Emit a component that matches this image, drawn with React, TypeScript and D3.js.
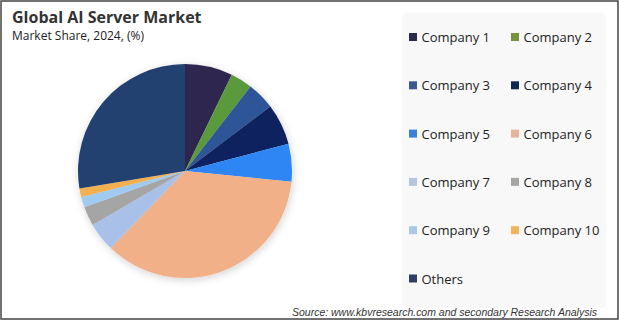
import React from "react";
import * as d3 from "d3";

const categories = ["Company 1","Company 2","Company 3","Company 4","Company 5","Company 6","Company 7","Company 8","Company 9","Company 10","Others"];
const shares = [7.2, 3.3, 4.2, 6.2, 5.7, 35.6, 4.4, 2.9, 1.6, 1.3, 27.6];
const pieColors = ["#2e2550","#5a9a3c","#2f5597","#0a205e","#2e86f5","#f2b089","#a9c1e8","#a5a5a5","#9fcbf0","#f4b050","#233f6f"];
const legendColors = ["#2b2a4a","#77933c","#3a5a8f","#0f2a52","#3a80d8","#e6b49a","#b6c5dc","#a6a6a6","#a9c9e4","#f0b25a","#2e3f66"];

const W = 620, H = 322;

export default function App() {
  const cx = 185, cy = 171, r = 107;
  const pie = d3.pie<number>().sort(null).value(d => d);
  const arcs = pie(shares);
  const arc = d3.arc<d3.PieArcDatum<number>>().innerRadius(0).outerRadius(r);
  const font = "'Open Sans', 'Noto Sans', sans-serif";
  const colX = d3.scalePoint<number>().domain([0, 1]).range([409, 511]);
  const rowY = d3.scaleLinear().domain([0, 5]).range([37.5, 279]);
  return (
    <svg width={W} height={H} style={{ position: "absolute", left: 0, top: 0 }} fontFamily={font}>
      <defs>
        <filter id="sh" x="-20%" y="-20%" width="140%" height="140%">
          <feGaussianBlur in="SourceAlpha" stdDeviation="4" />
          <feOffset dx="1" dy="2" result="b" />
          <feComponentTransfer><feFuncA type="linear" slope="0.18" /></feComponentTransfer>
          <feMerge><feMergeNode /><feMergeNode in="SourceGraphic" /></feMerge>
        </filter>
      </defs>
      <rect x={0} y={0} width={W} height={H} fill="#ffffff" />
      <text x={12} y={23} fontSize={16} fontWeight="bold" fill="#333333">Global AI Server Market</text>
      <text x={12} y={40} fontSize={12} fill="#222222">Market Share, 2024, (%)</text>
      <g transform={`translate(${cx},${cy})`} filter="url(#sh)">
        {arcs.map((a, i) => (
          <path key={i} d={arc(a) || ""} fill={pieColors[i]} />
        ))}
      </g>
      <rect x={401.5} y={12.5} width={205} height={296} rx={6} fill="#f8f8f8" />
      {categories.map((c, i) => {
        const col = i === 10 ? 0 : i % 2;
        const row = Math.floor(i / 2);
        const x = colX(col)!;
        const y = rowY(row);
        return (
          <g key={c}>
            <rect x={x} y={y - 4.5} width={8} height={8} fill={legendColors[i]} />
            <text x={x + 12.5} y={y + 4.5} fontSize={13} fill="#222222">{c}</text>
          </g>
        );
      })}
      <text x={292} y={315.5} fontSize={10.5} fontStyle="italic" fill="#333333" fontFamily="'Liberation Sans', Arial, sans-serif" textLength={305} lengthAdjust="spacingAndGlyphs">Source: www.kbvresearch.com and secondary Research Analysis</text>
      <rect x={1} y={1} width={617} height={318} fill="none" stroke="#444444" strokeWidth={1.5} />
    </svg>
  );
}
